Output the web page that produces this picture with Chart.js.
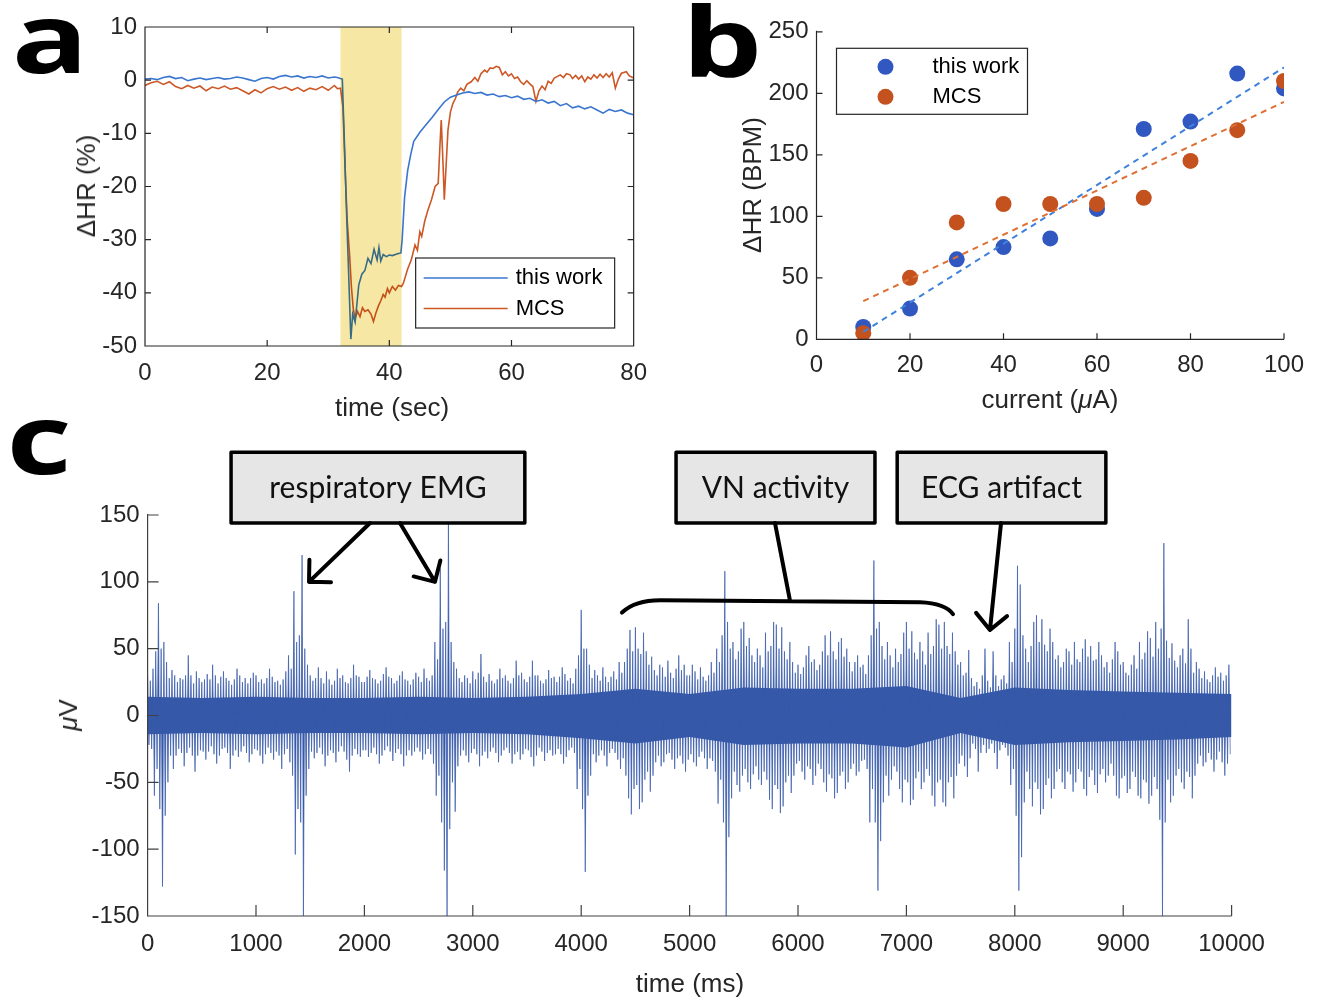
<!DOCTYPE html>
<html>
<head>
<meta charset="utf-8">
<script src="https://cdn.jsdelivr.net/npm/chart.js@4.4.0/dist/chart.umd.min.js"></script>
<style>
body{margin:0;background:#fff;width:1323px;height:1001px;position:relative;overflow:hidden;font-family:"Liberation Sans",Arial,sans-serif;color:#262626}
canvas{position:absolute}
.txt{position:absolute;transform:translate(-50%,-50%);white-space:nowrap;line-height:1;font-size:26px}
.rot{transform:translate(-50%,-50%) rotate(-90deg)}
.letter{position:absolute;font-family:"Open Sans";font-weight:700;font-size:96px;line-height:1;color:#000;transform:translate(-50%,-50%) scaleX(1.32)}
</style>
</head>
<body>
<canvas id="chartA" width="660" height="440" style="left:0;top:0"></canvas>
<canvas id="chartB" width="663" height="440" style="left:660px;top:0"></canvas>
<canvas id="chartC" width="1323" height="571" style="left:0;top:430px"></canvas>

<div class="letter" style="left:50px;top:36px">a</div>
<div class="letter" style="left:722px;top:40px">b</div>
<div class="letter" style="left:39px;top:437px">c</div>

<div class="txt rot" style="left:86px;top:186px">ΔHR (%)</div>
<div class="txt" style="left:392px;top:407px">time (sec)</div>
<div class="txt rot" style="left:752px;top:185px">ΔHR (BPM)</div>
<div class="txt" style="left:1050px;top:399px">current (<i>μ</i>A)</div>
<div class="txt rot" style="left:68px;top:715px"><i>μ</i>V</div>
<div class="txt" style="left:690px;top:983px">time (ms)</div>

<script>
// ---- panel a: heart rate change vs time ----
var stimStart = 32, stimEnd = 42;

var tWork = [0,1,2,3,4,5,6,7,8,9,10,11,12,13,14,15,16,17,18,19,20,21,22,23,24,25,26,27,28,29,30,31,
  31.5,32,32.3,32.6,33,33.3,33.7,34,34.4,34.7,
  35,35.5,36,36.5,37,37.5,38,38.3,38.6,39,
  39.5,40,40.5,41,41.5,41.9,42.1,42.5,43,43.5,
  44,45,46,47,48,49,50,51,52,53,54,55,56,57,58,59,60,61,62,
  63,64,65,66,67,68,69,70,71,72,73,74,75,76,77,78,79,80];
var hrWork = [0.2,0.3,0.1,0.5,0.7,0.3,0.5,-0.1,0.2,0.4,0.1,0.3,0.5,0.2,0.3,0.6,0.4,0.1,-0.2,0.3,0.5,0.2,0.7,0.9,0.6,0.8,0.4,0.7,0.5,0.8,0.4,0.6,
  0.5,0.3,0.2,-10,-25,-35,-48.7,-44,-45.5,-42,
  -38.5,-36.5,-35.8,-33.5,-34.5,-31.8,-33.8,-31.5,-34,-32.8,
  -33.2,-32.9,-33,-32.8,-32.6,-32.5,-30,-22,-17,-14,
  -11.5,-9.8,-8.4,-7,-5.5,-4.1,-3.2,-2.8,-2.4,-2.2,-2.5,-2.3,-2.8,-2.6,-3.1,-2.9,-3.3,-3.0,-3.6,
  -3.4,-4.0,-3.7,-4.3,-4.0,-4.8,-4.4,-5.2,-4.9,-5.4,-5.0,-5.6,-6.2,-5.5,-5.9,-5.6,-6.2,-6.5];

var tMcs = [0,1,2,3,4,5,6,7,8,9,10,11,12,13,14,15,16,17,18,19,20,21,22,23,24,25,26,27,28,29,30,31,
  31.5,32,32.4,32.8,33.1,33.5,33.8,34.1,34.4,34.8,
  35.2,35.6,36,36.5,37,37.4,37.8,38.2,38.6,39,
  39.3,39.7,40,40.5,41,41.5,42,42.3,43,43.6,
  44.2,44.6,45,45.3,45.8,46.3,46.9,47.5,48,48.3,
  48.5,48.8,49,49.3,49.6,50,50.4,50.8,51.2,51.7,
  52.2,52.7,53.4,54,54.5,55,55.6,56,56.5,57,
  57.5,58,58.5,59,59.5,60,60.5,61,61.5,62,
  62.5,63,63.5,64,64.5,65,65.5,66,66.5,67,
  68,68.5,69,69.6,70,70.5,71,71.5,72,72.5,
  73,73.5,74,74.5,75,75.5,76,76.5,77,77.5,
  78,78.8,79.3,80];
var hrMcs = [-1.0,-0.5,-0.2,-0.8,-0.3,-1.2,-1.6,-1.0,-1.5,-1.1,-2.0,-1.3,-1.6,-1.1,-1.7,-1.4,-2.0,-2.6,-1.8,-2.4,-1.6,-1.2,-1.7,-1.3,-1.9,-1.4,-2.1,-1.5,-1.8,-1.2,-1.9,-1.0,
  -1.6,-1.5,-5,-18,-26.3,-33,-39,-43,-44.8,-43.5,
  -44.5,-42.8,-43.5,-43.2,-44,-45.4,-43.8,-42.5,-41.5,-40.3,
  -40.8,-39.2,-40,-38.8,-39.5,-38.6,-38.8,-38.2,-35.5,-33.8,
  -31,-32,-28.5,-29.4,-26.5,-24.5,-22.5,-20,-19.4,-12,
  -7.5,-16,-22.5,-16,-9.4,-6,-4.4,-3.5,-2.2,-1.5,
  -2.0,-0.8,-0.3,0.5,-0.2,1.2,1.9,1.5,2.3,2.2,
  2.6,2.4,1.0,1.6,0.8,1.2,0.3,0.6,-0.3,-0.8,
  -0.1,-0.7,-1.2,-4.0,-2.0,-1.1,-1.8,-0.2,-0.6,0.4,
  1.0,0.5,1.2,1.0,0.3,0.9,0.2,0.8,-0.3,0.6,
  0.2,1.0,0.4,1.1,0.5,1.2,0.6,1.4,-1.5,0.2,
  1.3,1.6,0.8,0.4];

// ---- panel b: heart rate change vs current ----
var currentUA = [10,20,30,40,50,60,70,80,90,100];
var dhrWork = [10,25,65,75,82,106,171,177,216,204];
var dhrMcs = [5,50,95,110,110,110,115,145,170,210];
var fitX = [10,100];
var fitWork = [6,221];
var fitMcs = [31,193];

// ---- panel c: nerve recording, per 50 ms bin ----
var binMs = 50;
// biggest positive / negative excursion in each bin
var emgHi = [
  30,48,84,55,34,30,28,45,30,33,27,31,38,29,33,26,35,30,28,32,
  30,27,35,29,26,33,45,93,120,50,30,36,28,33,26,35,30,28,38,29,
  29,34,27,31,36,28,30,33,26,32,29,35,30,55,110,150,55,35,30,28,
  33,46,29,31,27,35,30,28,41,32,29,41,30,27,34,29,36,31,28,45,
  79,50,34,30,36,29,33,40,50,64,66,62,48,44,38,36,41,35,45,38,
  38,33,36,30,40,50,108,70,55,65,70,58,50,45,62,70,68,66,55,40,
  38,45,52,42,48,60,63,55,58,50,40,45,38,60,116,70,55,45,50,62,
  70,63,55,48,62,72,68,70,62,48,40,49,28,25,50,26,48,27,30,55,
  112,98,50,70,75,72,65,55,45,50,48,55,50,57,52,55,45,40,55,48,
  40,38,45,55,63,58,70,129,56,54,45,50,72,40,35,33,30,36,32,38];
var emgLo = [
  -25,-60,-128,-75,-40,-30,-38,-28,-42,-30,-33,-27,-36,-30,-28,-40,-31,-27,-35,-29,
  -30,-36,-28,-33,-40,-29,-45,-104,-150,-60,-32,-28,-38,-30,-35,-27,-33,-42,-29,-31,
  -31,-28,-36,-30,-27,-34,-29,-38,-30,-27,-33,-29,-36,-60,-116,-150,-72,-38,-30,-35,
  -29,-38,-32,-27,-35,-30,-28,-36,-33,-29,-31,-38,-27,-34,-30,-29,-36,-31,-28,-55,
  -117,-60,-35,-30,-38,-28,-33,-40,-62,-74,-70,-65,-57,-45,-38,-35,-33,-40,-36,-42,
  -35,-38,-32,-40,-42,-66,-150,-91,-52,-57,-50,-55,-48,-52,-63,-70,-73,-68,-58,-45,
  -42,-48,-52,-45,-50,-57,-62,-58,-55,-50,-45,-42,-40,-80,-131,-94,-60,-48,-55,-65,
  -67,-63,-55,-50,-60,-68,-65,-68,-62,-45,-38,-46,-25,-42,-28,-25,-40,-26,-30,-52,
  -131,-106,-55,-68,-74,-70,-62,-55,-50,-55,-57,-50,-55,-60,-52,-58,-50,-45,-60,-62,
  -58,-55,-60,-62,-66,-60,-78,-150,-65,-60,-50,-55,-62,-45,-38,-35,-42,-33,-45,-36];
// second largest excursions in each bin (the dense fringe)
var emgHi2 = [
  26,35,50,40,28,25,27,30,24,28,25,27,30,24,28,23,27,25,24,28,
  25,24,28,25,23,27,35,55,60,38,26,28,24,27,23,28,25,24,30,25,
  25,28,24,26,29,24,26,27,23,27,25,28,26,42,65,70,40,28,25,24,
  27,32,25,26,24,28,26,24,30,27,25,30,26,24,28,25,29,26,24,35,
  50,38,28,26,29,25,27,32,40,48,50,46,38,34,30,29,32,28,34,30,
  30,27,29,26,32,40,60,50,42,48,52,45,40,36,48,52,50,48,42,32,
  31,36,40,34,38,45,48,42,44,40,33,36,31,45,65,52,42,36,40,46,
  50,47,42,38,46,52,50,52,46,38,30,32,22,20,30,21,30,22,24,40,
  65,60,40,52,55,53,48,42,36,40,38,42,40,44,41,42,36,32,42,38,
  32,30,35,42,47,44,50,65,43,41,36,39,50,32,28,27,25,29,26,30];
var emgLo2 = [
  -22,-40,-70,-50,-30,-25,-28,-24,-30,-26,-27,-23,-29,-25,-24,-30,-26,-23,-28,-25,
  -26,-29,-24,-27,-30,-25,-35,-70,-80,-40,-27,-24,-29,-26,-28,-23,-27,-30,-25,-26,
  -26,-24,-29,-26,-23,-28,-25,-30,-26,-24,-27,-25,-29,-45,-80,-85,-50,-30,-26,-28,
  -25,-30,-27,-24,-28,-26,-24,-29,-27,-25,-26,-30,-24,-28,-26,-25,-29,-26,-24,-40,
  -70,-45,-29,-26,-30,-25,-28,-32,-45,-55,-52,-48,-42,-35,-30,-29,-28,-32,-30,-33,
  -29,-31,-27,-32,-34,-48,-80,-62,-42,-45,-40,-44,-38,-42,-48,-52,-55,-50,-45,-36,
  -34,-38,-40,-36,-40,-44,-47,-45,-42,-40,-36,-34,-33,-55,-80,-65,-45,-38,-42,-48,
  -50,-47,-42,-40,-45,-50,-48,-50,-46,-36,-30,-32,-21,-28,-22,-21,-28,-22,-24,-40,
  -75,-65,-42,-50,-55,-52,-47,-42,-40,-42,-44,-40,-42,-46,-41,-44,-40,-36,-45,-47,
  -45,-42,-46,-48,-50,-46,-55,-80,-48,-45,-40,-42,-46,-36,-30,-28,-33,-27,-35,-29];
// fully solid centre of the trace, every 500 ms
var coreTime = [0,500,1000,1500,2000,2500,3000,3500,4000,4500,5000,5500,6000,6500,7000,7500,8000,8500,9000,9500,10000];
var coreHi = [14,13,14,13,13,14,13,14,16,20,16,21,20,20,22,13,21,19,18,17,16];
var coreLo = [-14,-13,-14,-13,-13,-14,-13,-14,-17,-21,-16,-22,-21,-21,-24,-13,-22,-20,-19,-18,-16];

// ---- colours / fonts ----
var axisCol = '#262626';
var blueA = 'rgb(58,118,206)', orangeA = 'rgb(205,88,38)';
var blueB = 'rgb(48,88,192)', orangeB = 'rgb(196,82,30)';
var blueFit = 'rgb(62,130,220)', orangeFit = 'rgb(222,112,52)';
var emgBlue = '#3759a9';
Chart.defaults.font.family = '"Liberation Sans", Arial, sans-serif';
var tickFont = {size: 24};

function xy(xs, ys){ return xs.map(function(x,i){ return {x:x, y:ys[i]}; }); }

function axisOpts(min, max, step, fit, pad){
  return {
    type:'linear', min:min, max:max,
    ticks:{stepSize:step, font:tickFont, color:axisCol, padding:pad || 8, callback:function(v){ return String(v); }},
    grid:{display:false, drawTicks:false}, border:{display:false},
    afterFit:function(s){ if(s.isHorizontal()) s.height = fit; else s.width = fit; }
  };
}

// MATLAB style axes with inward ticks
function framePlugin(box, len, col){
  return {id:'frame', afterDraw:function(chart){
    var ctx = chart.ctx, a = chart.chartArea, sx = chart.scales.x, sy = chart.scales.y;
    ctx.save();
    ctx.strokeStyle = col; ctx.lineWidth = 1.2;
    ctx.beginPath();
    ctx.moveTo(a.left, box ? a.top : a.top - 1);
    ctx.lineTo(a.left, a.bottom); ctx.lineTo(a.right, a.bottom);
    if(box){ ctx.lineTo(a.right, a.top); ctx.closePath(); }
    sx.ticks.forEach(function(t){
      var p = sx.getPixelForValue(t.value);
      ctx.moveTo(p, a.bottom); ctx.lineTo(p, a.bottom - len);
      if(box){ ctx.moveTo(p, a.top); ctx.lineTo(p, a.top + len); }
    });
    sy.ticks.forEach(function(t){
      var p = sy.getPixelForValue(t.value);
      ctx.moveTo(a.left, p); ctx.lineTo(a.left + len, p);
      if(box){ ctx.moveTo(a.right, p); ctx.lineTo(a.right - len, p); }
    });
    ctx.stroke();
    ctx.restore();
  }};
}

// yellow stimulation window, multiplied over the traces
var bandPlugin = {id:'band', afterDatasetsDraw:function(chart){
  var ctx = chart.ctx, a = chart.chartArea, sx = chart.scales.x;
  var x0 = sx.getPixelForValue(stimStart), x1 = sx.getPixelForValue(stimEnd);
  ctx.save();
  ctx.globalCompositeOperation = 'multiply';
  ctx.fillStyle = 'rgb(246,232,164)';
  ctx.fillRect(x0, a.top, x1 - x0, a.bottom - a.top);
  ctx.restore();
}};

var legendA = {id:'legendA', afterDraw:function(chart){
  var ctx = chart.ctx, a = chart.chartArea;
  var w = 199, h = 70, x = a.right - 19 - w, y = a.bottom - 18 - h;
  ctx.save();
  ctx.fillStyle = '#fff'; ctx.fillRect(x, y, w, h);
  ctx.strokeStyle = axisCol; ctx.lineWidth = 1.2; ctx.strokeRect(x, y, w, h);
  ctx.font = '22px "Liberation Sans"'; ctx.textBaseline = 'middle';
  chart.data.datasets.forEach(function(ds, i){
    var ly = y + 20 + i * 30.5;
    ctx.strokeStyle = ds.borderColor; ctx.lineWidth = 1.6;
    ctx.beginPath(); ctx.moveTo(x + 8, ly); ctx.lineTo(x + 92, ly); ctx.stroke();
    ctx.fillStyle = '#000'; ctx.fillText(ds.label, x + 100, ly);
  });
  ctx.restore();
}};

var legendB = {id:'legendB', afterDraw:function(chart){
  var ctx = chart.ctx, a = chart.chartArea;
  var w = 191, h = 66, x = a.left + 20, y = a.top + 16.5;
  ctx.save();
  ctx.fillStyle = '#fff'; ctx.fillRect(x, y, w, h);
  ctx.strokeStyle = axisCol; ctx.lineWidth = 1.2; ctx.strokeRect(x, y, w, h);
  ctx.font = '22px "Liberation Sans"'; ctx.textBaseline = 'middle';
  chart.data.datasets.slice(0, 2).forEach(function(ds, i){
    var ly = y + 18.5 + i * 30;
    ctx.fillStyle = ds.backgroundColor;
    ctx.beginPath(); ctx.arc(x + 49, ly, 8, 0, Math.PI * 2); ctx.fill();
    ctx.fillStyle = '#000'; ctx.fillText(ds.label, x + 96, ly);
  });
  ctx.restore();
}};

// call-out boxes, arrows and brace of panel c, placed in data units
var notes = {
  boxes:[{t0:770, t1:3480, text:'respiratory EMG'}, {t0:4875, t1:6710, text:'VN activity'}, {t0:6915, t1:8840, text:'ECG artifact'}],
  boxTop:197, boxBottom:144,
  arrows:[[2052,144,1489,100], [2328,144,2651,100], [7873,144,7771,64]],
  stem:[5788,144,5926,86]
};
var notesPlugin = {id:'notes', afterDraw:function(chart){
  var ctx = chart.ctx, sx = chart.scales.x, sy = chart.scales.y;
  function px(t){ return sx.getPixelForValue(t); }
  function py(v){ return sy.getPixelForValue(v); }
  ctx.save();
  ctx.lineCap = 'round'; ctx.lineJoin = 'round';
  var yT = py(notes.boxTop), yB = py(notes.boxBottom);
  notes.boxes.forEach(function(b){
    var x0 = px(b.t0), x1 = px(b.t1);
    ctx.fillStyle = '#e6e6e6'; ctx.fillRect(x0, yT, x1 - x0, yB - yT);
    ctx.strokeStyle = '#000'; ctx.lineWidth = 3.5; ctx.strokeRect(x0, yT, x1 - x0, yB - yT);
    ctx.fillStyle = '#111'; ctx.font = '30px Lato'; ctx.textAlign = 'center'; ctx.textBaseline = 'middle';
    ctx.fillText(b.text, (x0 + x1) / 2, (yT + yB) / 2 + 1);
  });
  ctx.strokeStyle = '#000'; ctx.lineWidth = 4;
  notes.arrows.forEach(function(r){
    var x0 = px(r[0]), y0 = py(r[1]), x1 = px(r[2]), y1 = py(r[3]);
    var ang = Math.atan2(y0 - y1, x0 - x1), L = 22;
    ctx.beginPath();
    ctx.moveTo(x0, y0); ctx.lineTo(x1, y1);
    ctx.moveTo(x1 + L * Math.cos(ang - Math.PI / 4), y1 + L * Math.sin(ang - Math.PI / 4));
    ctx.lineTo(x1, y1);
    ctx.lineTo(x1 + L * Math.cos(ang + Math.PI / 4), y1 + L * Math.sin(ang + Math.PI / 4));
    ctx.stroke();
  });
  ctx.beginPath();
  ctx.moveTo(px(notes.stem[0]), py(notes.stem[1])); ctx.lineTo(px(notes.stem[2]), py(notes.stem[3]));
  ctx.moveTo(px(4376), py(77));
  ctx.quadraticCurveTo(px(4497), py(86.2), px(4728), py(86.2));
  ctx.lineTo(px(7126), py(84.7));
  ctx.quadraticCurveTo(px(7357), py(84), px(7430), py(75.8));
  ctx.stroke();
  ctx.restore();
}};

var baseOpts = {responsive:false, animation:false, events:[],
  plugins:{legend:{display:false}, tooltip:{enabled:false}}};

// ---- chart a ----
new Chart(document.getElementById('chartA'), {
  type:'line',
  data:{datasets:[
    {label:'this work', data:xy(tWork, hrWork), borderColor:blueA, borderWidth:1.6, pointRadius:0, tension:0},
    {label:'MCS', data:xy(tMcs, hrMcs), borderColor:orangeA, borderWidth:1.6, pointRadius:0, tension:0}
  ]},
  options:Object.assign({}, baseOpts, {
    layout:{autoPadding:false, padding:{top:27, right:23, left:0, bottom:0}},
    scales:{x:axisOpts(0, 80, 20, 94, 13), y:axisOpts(-50, 10, 10, 145)}
  }),
  plugins:[bandPlugin, framePlugin(true, 6, axisCol), legendA]
});

// ---- chart b ----
new Chart(document.getElementById('chartB'), {
  type:'scatter',
  data:{datasets:[
    {label:'this work', data:xy(currentUA, dhrWork), backgroundColor:blueB, pointRadius:8, pointBorderWidth:0, order:4},
    {label:'MCS', data:xy(currentUA, dhrMcs), backgroundColor:orangeB, pointRadius:8, pointBorderWidth:0, order:3},
    {label:'fit this work', type:'line', data:xy(fitX, fitWork), borderColor:blueFit, borderWidth:2, borderDash:[6,5], pointRadius:0, order:2},
    {label:'fit MCS', type:'line', data:xy(fitX, fitMcs), borderColor:orangeFit, borderWidth:2, borderDash:[6,5], pointRadius:0, order:1}
  ]},
  options:Object.assign({}, baseOpts, {
    layout:{autoPadding:false, padding:{top:31.8, right:39, left:0, bottom:0}},
    scales:{x:axisOpts(0, 100, 20, 100.7, 12), y:axisOpts(0, 250, 50, 156.5)}
  }),
  plugins:[framePlugin(false, 6, axisCol), legendB]
});

// ---- chart c ----
// four samples per bin; where the largest peak sits inside the bin varies
var emgPts = [];
emgHi.forEach(function(v, i){
  var t = i * binMs;
  var hiA = v, hiB = emgHi2[i], loA = emgLo2[i], loB = emgLo[i];
  if(i % 3 === 1){ hiA = emgHi2[i]; hiB = v; }
  if(i % 2 === 1){ loA = emgLo[i]; loB = emgLo2[i]; }
  emgPts.push({x:t, y:hiA});
  emgPts.push({x:t + binMs / 4, y:loA});
  emgPts.push({x:t + binMs / 2, y:hiB});
  emgPts.push({x:t + binMs * 3 / 4, y:loB});
});
new Chart(document.getElementById('chartC'), {
  type:'line',
  data:{datasets:[
    {label:'signal', data:emgPts, borderColor:'rgba(55,89,169,0.85)', backgroundColor:emgBlue, borderWidth:0.8, pointRadius:0, tension:0, fill:'origin'},
    {label:'core hi', data:xy(coreTime, coreHi), borderWidth:0, pointRadius:0, backgroundColor:emgBlue, fill:'+1'},
    {label:'core lo', data:xy(coreTime, coreLo), borderWidth:0, pointRadius:0, fill:false}
  ]},
  options:Object.assign({}, baseOpts, {
    layout:{autoPadding:false, padding:{top:85, right:91.4, left:0, bottom:0}},
    scales:{x:axisOpts(0, 10000, 1000, 85, 14), y:axisOpts(-150, 150, 50, 147.6)}
  }),
  plugins:[framePlugin(false, 11, '#404040'), notesPlugin]
});
</script>
</body>
</html>
